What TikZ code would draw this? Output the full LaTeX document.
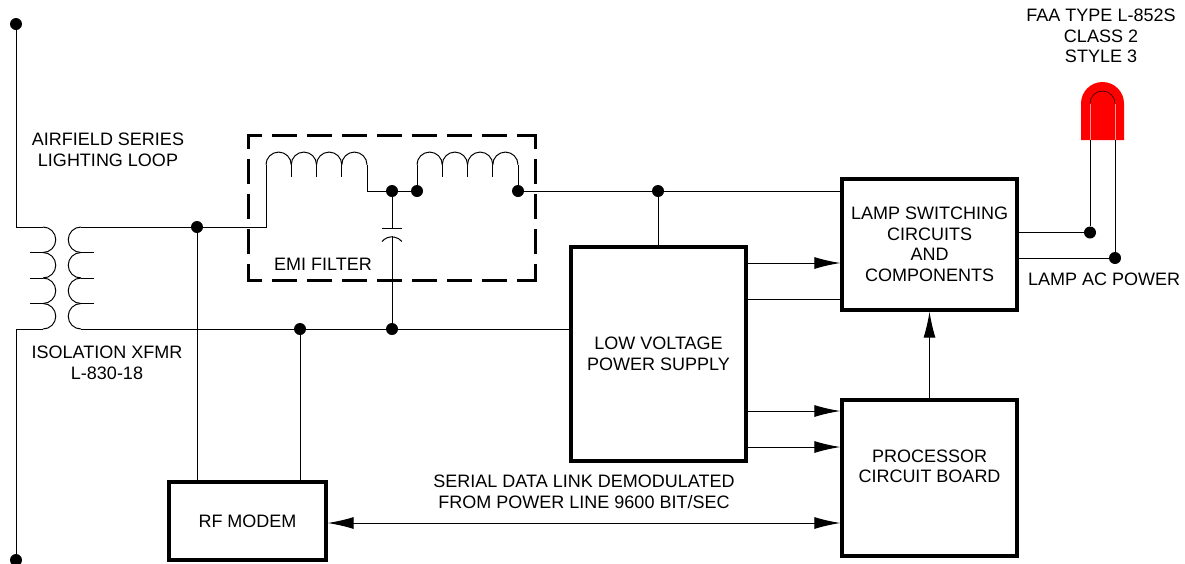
\documentclass[tikz,border=0pt]{standalone}
\usepackage{fontspec}
\setmainfont{Liberation Sans}
\usepackage{xcolor}
\usetikzlibrary{arrows.meta,positioning}
\definecolor{figureline}{RGB}{0,0,0}
\definecolor{lampred}{RGB}{255,0,0}
\definecolor{lampedge}{RGB}{255,150,150}

\begin{document}
\begin{tikzpicture}[
    x=1pt, y=-1pt,
    font=\fontsize{18}{20.5}\selectfont,
    box/.style={draw=figureline, fill=white, line width=3.4pt, align=center, inner sep=0pt},
    wire/.style={draw=figureline, line width=1pt},
    arrow/.style={wire, -{Latex[length=26pt,width=12pt]}},
    biarrow/.style={wire, {Latex[length=26pt,width=12pt]}-{Latex[length=26pt,width=12pt]}},
    dot/.style={circle, fill=black, inner sep=0pt, minimum size=12pt},
    filterside/.style={draw=figureline, line width=3pt, line cap=rect, dash pattern=on 22pt off 13pt, dash phase=10pt},
    label/.style={align=center, inner sep=0pt}
  ]
    \useasboundingbox (0,0) rectangle (1185,563);

    % lamp body
    \fill[lampred] (1081,140) -- (1081,103.5) arc[start angle=180, end angle=0, radius=21.5pt] -- (1124,140) -- cycle;
    \draw[lampedge, line width=0.6pt] (1090,140) -- (1090,103.5);
    \draw[lampedge, line width=0.6pt] (1115,140) -- (1115,103.5);
    \draw[figureline, line width=0.5pt] (1090,103.5) arc[start angle=180, end angle=0, radius=12.5pt];

    % blocks
    \node[box, minimum width=175pt, minimum height=214pt] (supply) at (658.5,354) {LOW VOLTAGE\\POWER SUPPLY};
    \node[box, minimum width=175pt, minimum height=131pt] (switching) at (929.5,244.5) {LAMP SWITCHING\\CIRCUITS\\AND\\COMPONENTS};
    \node[box, minimum width=175pt, minimum height=156pt] (processor) at (929.5,478) {};
    \node[label] (processortext) at (929.5,466.5) {PROCESSOR\\CIRCUIT BOARD};
    \node[box, minimum width=157pt, minimum height=78pt] (modem) at (247.5,521) {RF MODEM};

    % junctions
    \node[dot] (looptop) at (16,24) {};
    \node[dot] (loopbot) at (16,560) {};
    \node[dot] (modemhot) at (197,227) {};
    \node[dot] (modemret) at (300,329) {};
    \node[dot] (capret) at (392,329) {};
    \node[dot] (capmid) at (392,191) {};
    \node[dot] (coilin) at (417,191) {};
    \node[dot] (coilout) at (518,191) {};
    \node[dot] (supplytap) at (658,191) {};
    \node[dot] (lampa) at (1090,232.5) {};
    \node[dot] (lampb) at (1115,258) {};
    \coordinate (lampaend) at (1090,140);
    \coordinate (lampbend) at (1115,140);

    % transformer
    \foreach \y in {227,252.5,278,303.5} {
      \draw[wire] (43,\y) arc[start angle=90, end angle=-90, radius=12.75pt];
      \draw[wire] (81,\y) arc[start angle=90, end angle=270, radius=12.75pt];
    }
    \foreach \y in {252.5,278,303.5} {
      \draw[wire] (30,\y) -- (43,\y);
      \draw[wire] (81,\y) -- (94,\y);
    }
    \coordinate (priA) at (43,227);
    \coordinate (priB) at (43,329);
    \coordinate (secA) at (81,227);
    \coordinate (secB) at (81,329);
    \coordinate (coilstart) at (266,227);

    % emi filter
    \coordinate (filterNW) at (248,135);
    \coordinate (filterNE) at (535,135);
    \coordinate (filterSE) at (535,280);
    \coordinate (filterSW) at (248,280);
    \draw[filterside] (filterNW) -- (filterNE);
    \draw[filterside] (filterSW) -- (filterSE);
    \draw[filterside] (filterNW) -- (filterSW);
    \draw[filterside] (filterNE) -- (filterSE);
    \foreach \x in {266,291.25,316.5,341.75} {
      \draw[wire] (\x,164.7) arc[start angle=180, end angle=0, radius=12.625pt];
    }
    \foreach \x in {291.25,316.5,341.75} {
      \draw[wire] (\x,164.7) -- (\x,177);
    }
    \foreach \x in {417,442.25,467.5,492.75} {
      \draw[wire] (\x,164.7) arc[start angle=180, end angle=0, radius=12.625pt];
    }
    \foreach \x in {442.25,467.5,492.75} {
      \draw[wire] (\x,164.7) -- (\x,177);
    }
    \coordinate (capupper) at (392,228);
    \coordinate (caplower) at (392,236);
    \draw[wire] (382,228) -- (402,228);
    \draw[wire] (382,241.5) arc[start angle=140, end angle=40, radius=13pt];

    % wiring
    \draw[wire] (looptop) -- (16,227) -- (priA);
    \draw[wire] (loopbot) -- (16,329) -- (priB);
    \draw[wire] (secA) -- (modemhot);
    \draw[wire] (modemhot) -- (coilstart) -- (266,164.7);
    \draw[wire] (secB) -- (modemret);
    \draw[wire] (modemret) -- (capret);
    \draw[wire] (capret) -- (supply.west |- capret);
    \draw[wire] (modemhot) -- (modemhot |- modem.north);
    \draw[wire] (modemret) -- (modemret |- modem.north);
    \draw[wire] (capret) -- (caplower);
    \draw[wire] (capmid) -- (capupper);
    \draw[wire] (367,164.7) -- (367,191) -- (capmid);
    \draw[wire] (capmid) -- (coilin);
    \draw[wire] (coilin) -- (417,164.7);
    \draw[wire] (coilout) -- (518,164.7);
    \draw[wire] (coilout) -- (supplytap);
    \draw[wire] (supplytap) -- (switching.west |- supplytap);
    \draw[wire] (supplytap) -- (supplytap |- supply.north);
    \draw[arrow] (supply.east |- 0,263) -- (switching.west |- 0,263);
    \draw[wire] (supply.east |- 0,299) -- (switching.west |- 0,299);
    \draw[arrow] (supply.east |- 0,411) -- (processor.west |- 0,411);
    \draw[arrow] (supply.east |- 0,447) -- (processor.west |- 0,447);
    \draw[arrow] (processor.north) -- (switching.south);
    \draw[biarrow] (modem.east |- 0,523) -- (processor.west |- 0,523);
    \draw[wire] (switching.east |- lampa) -- (lampa);
    \draw[wire] (switching.east |- lampb) -- (lampb);
    \draw[wire] (lampa) -- (lampaend);
    \draw[wire] (lampb) -- (lampbend);

    % labels
    \node[label] (faatype) at (1101,36) {FAA TYPE L-852S\\CLASS 2\\STYLE 3};
    \node[label] (lamppower) at (1104,279) {LAMP AC POWER};
    \node[label] (loop) at (108,150) {AIRFIELD SERIES\\LIGHTING LOOP};
    \node[label] (emi) at (323,264) {EMI FILTER};
    \node[label] (xfmr) at (107,363) {ISOLATION XFMR\\L-830-18};
    \node[label] (serial) at (584,492) {SERIAL DATA LINK DEMODULATED\\FROM POWER LINE 9600 BIT/SEC};
  \end{tikzpicture}
\end{document}
